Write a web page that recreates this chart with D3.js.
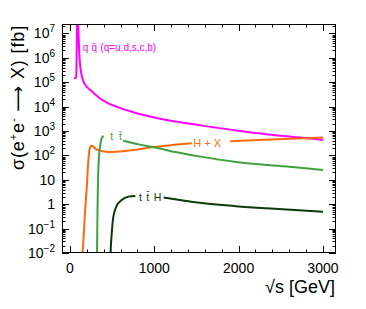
<!DOCTYPE html>
<html><head><meta charset="utf-8">
<script src="https://cdn.jsdelivr.net/npm/d3@7"></script>
<style>
body{margin:0;background:#fff;}
text{font-family:"Liberation Sans",Arial,Helvetica,sans-serif;}
</style></head>
<body>
<svg id="c" width="366" height="309"></svg>
<script>
// ---- data (sqrt(s) in GeV, cross section in fb); null marks a gap for a label ----
const qqX  = [47, 70, 76, 80, 86, 91, 100, 110, 120, 140, 160, 200, 240, 300, 360, 450, 550, 750, 1000, 1250, 1550, 1950, 2350, 2700, 3000];
const qqY  = [1.45e5, 1.5e5, 2.5e5, 3e6, 3e7, 4e7, 1.2e7, 1.5e6, 5e5, 1.8e5, 1.05e5, 6.5e4, 4.8e4, 3.1e4, 2.1e4, 1.4e4, 1.0e4, 5.9e3, 3.6e3, 2.45e3, 1.7e3, 1.07e3, 7.2e2, 5.5e2, 4.3e2];
const hxX  = [145, 160, 175, 190, 200, 210, 220, 235, 250, 270, 300, 350, 400, 500, 600, 750, 1000, 1445, 1650, 1900, 2300, 2700, 3000];
const hxY  = [0.005, 0.04, 0.32, 2.0, 5.6, 25, 80, 200, 250, 240, 190, 158, 145, 138, 145, 166, 219, 316, null, 380, 437, 490, 537];
const ttX  = [320, 325, 330, 336, 345, 356, 376, 398, 520, 630, 800, 1000, 1250, 1550, 1950, 2350, 2700, 3000];
const ttY  = [0.005, 0.3, 4, 25, 100, 230, 500, 630, null, 400, 290, 214, 138, 89, 55, 40, 32, 25];
const tthX = [478, 485, 495, 514, 553, 613, 692, 775, 950, 1110, 1540, 1940, 2330, 3000];
const tthY = [0.005, 0.02, 0.065, 0.31, 0.85, 1.48, 2.04, 2.19, null, 1.9, 1.15, 0.85, 0.68, 0.49];
const xTicks = [0, 1000, 2000, 3000];
const yExps = [-2, -1, 0, 1, 2, 3, 4, 5, 6, 7];

const series = [
  {x: qqX, y: qqY, color: "#ff00ff"},
  {x: hxX, y: hxY, color: "#ff6a0d"},
  {x: ttX, y: ttY, color: "#40a040"},
  {x: tthX, y: tthY, color: "#0b3a0b"}
];
const labels = [
  {t: "q q\u0304 (q=u,d,s,c,b)", x: 150, y: 2.6e6, color: "#ff00ff", size: 10, ws: 0.5},
  {t: "H + X", x: 1462, y: 330, color: "#ff6a0d", size: 11, ws: 0},
  {t: "t t\u0304", x: 476, y: 580, color: "#40a040", size: 10.5, ws: 3},
  {t: "t t\u0304 H", x: 818, y: 2.0, color: "#0b3a0b", size: 10.5, ws: 1.5}
];

// ---- layout ----
const L = 62, R = 336, T = 24, B = 253;
const svg = d3.select("#c");
const x = d3.scaleLinear().domain([-95, 3155]).range([L, R]);
const y = d3.scaleLog().domain([1e-2, Math.pow(10, 7 + (B - T - 9 * 24.4) / 24.4)]).range([B, T]);

svg.append("clipPath").attr("id", "clip").append("rect")
  .attr("x", L).attr("y", T).attr("width", R - L).attr("height", B - T);

const line = d3.line()
  .defined(d => d[1] != null)
  .x(d => x(d[0])).y(d => y(d[1]))
  .curve(d3.curveMonotoneX);

const g = svg.append("g").attr("clip-path", "url(#clip)");
series.forEach(s => {
  const pts = s.x.map((v, i) => [v, s.y[i]]);
  g.append("path").attr("d", line(pts)).attr("fill", "none")
    .attr("stroke", s.color).attr("stroke-width", 2);
});

// labels
labels.forEach(l => {
  svg.append("text").attr("x", x(l.x)).attr("y", y(l.y))
    .attr("dy", "0.35em").attr("fill", l.color).attr("font-size", l.size)
    .attr("word-spacing", l.ws).style("white-space", "pre").text(l.t);
});

// frame
svg.append("rect").attr("x", L + 0.5).attr("y", T + 0.5).attr("width", R - L - 1).attr("height", B - T - 1)
  .attr("fill", "none").attr("stroke", "#000").attr("stroke-width", 1);

// x ticks (bottom + top)
const ax = svg.append("g").attr("stroke", "#000").attr("stroke-width", 1);
d3.range(0, 3001, 200).forEach(v => {
  const px = Math.round(x(v)) + 0.5;
  const len = xTicks.includes(v) ? 7 : 3.5;
  ax.append("line").attr("x1", px).attr("x2", px).attr("y1", B).attr("y2", B - len);
  ax.append("line").attr("x1", px).attr("x2", px).attr("y1", T).attr("y2", T + len);
});
// y ticks (left + right)
const [ymin, ymax] = y.domain();
for (let e = -3; e <= 8; e++) {
  for (let k = 1; k <= 9; k++) {
    const v = k * Math.pow(10, e);
    if (v < ymin * 0.999 || v > ymax) continue;
    const py = Math.round(y(v)) + 0.5;
    const len = k === 1 ? 7 : 3.5;
    ax.append("line").attr("x1", L).attr("x2", L + len).attr("y1", py).attr("y2", py);
    ax.append("line").attr("x1", R).attr("x2", R - len).attr("y1", py).attr("y2", py);
  }
}

// x tick labels
xTicks.forEach(v => {
  svg.append("text").attr("x", x(v)).attr("y", 273).attr("text-anchor", "middle")
    .attr("font-size", 14).text(v);
});
// y tick labels
yExps.forEach(e => {
  const t = svg.append("text").attr("x", 55).attr("y", y(Math.pow(10, e))).attr("dy", "0.36em")
    .attr("text-anchor", "end").attr("font-size", 14);
  if (e === 0) t.text("1");
  else if (e === 1) t.text("10");
  else {
    t.append("tspan").text("10");
    t.append("tspan").attr("font-size", 10).attr("dy", -6).text(e < 0 ? "\u2212" + (-e) : e);
  }
});

// axis titles
svg.append("text").attr("x", 335).attr("y", 293).attr("text-anchor", "end")
  .attr("font-size", 18).text("\u221As [GeV]");
const yt = svg.append("text").attr("transform", "translate(24,25) rotate(-90)")
  .attr("text-anchor", "end").attr("font-size", 18).style("white-space", "pre");
yt.append("tspan").text("\u03C3(e");
yt.append("tspan").attr("font-size", 11).attr("dy", -7).text("+");
yt.append("tspan").attr("dy", 7).text("e");
yt.append("tspan").attr("font-size", 11).attr("dy", -7).text("-");
yt.append("tspan").attr("dy", 7).text(" ");
yt.append("tspan").attr("font-family", "DejaVu Sans").text("\u27F6");
yt.append("tspan").text(" X) [fb]");
const natural = yt.node().getComputedTextLength();
const nch = yt.text().length;
yt.attr("letter-spacing", Math.max(0, (145 - natural) / nch));
</script>
</body></html>
